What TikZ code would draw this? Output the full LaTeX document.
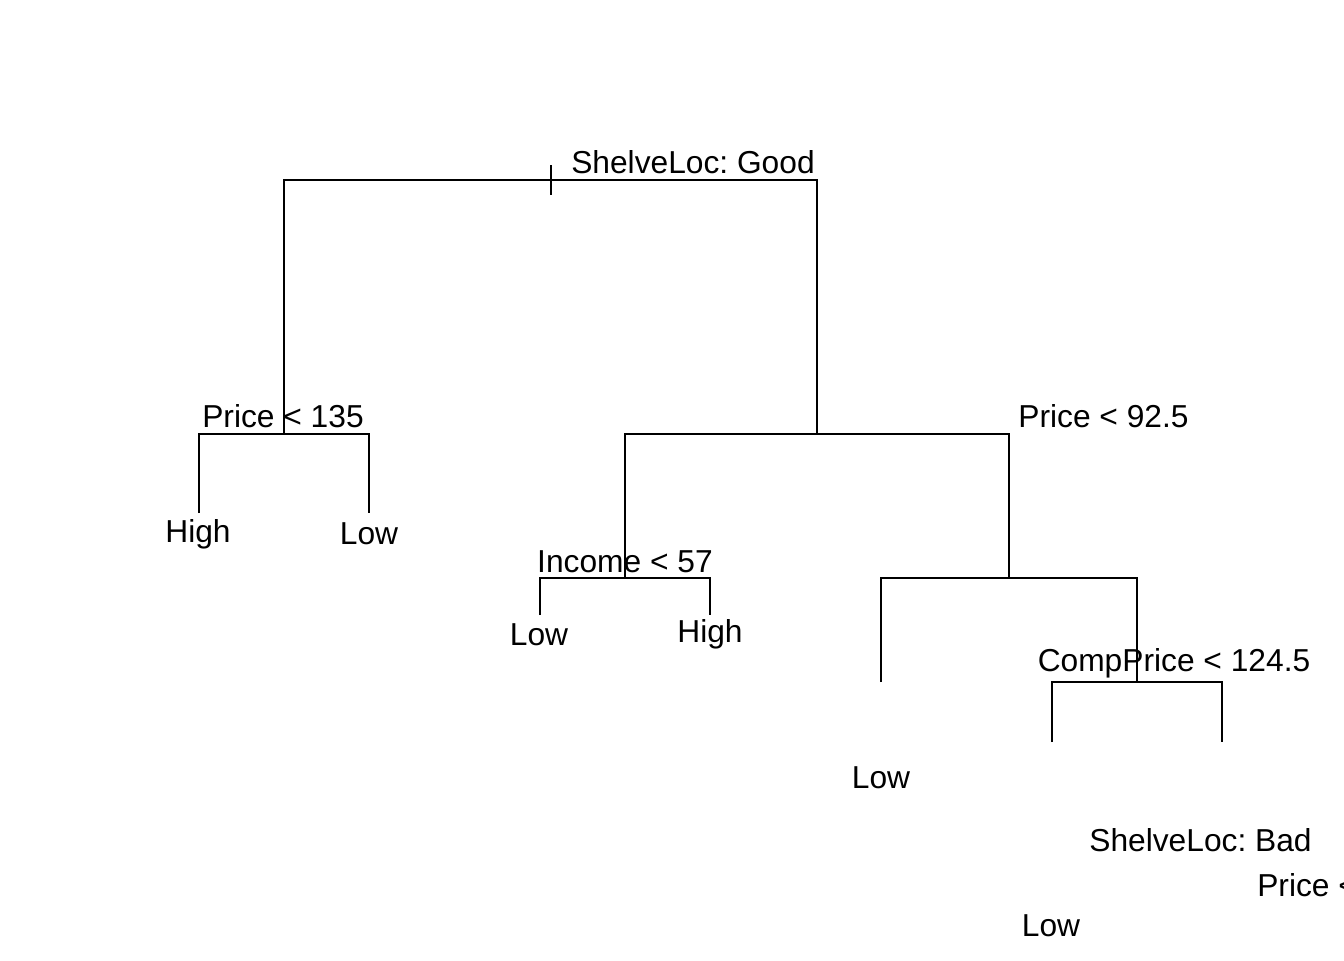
\documentclass[tikz,border=0pt]{standalone}
\usepackage{fontspec}
\setmainfont{Liberation Sans}
\frenchspacing
\begin{document}
\begin{tikzpicture}[x=0.75pt,y=-0.75pt,
  lbl/.style={anchor=base,inner sep=0pt,font=\fontsize{23.8}{28}\selectfont},
  edge/.style={line width=1.5pt}]
\clip (0,0) rectangle (1344,960);
\fill[white] (0,0) rectangle (1344,960);
% tree node positions
\coordinate (r) at (550.5,180);
\coordinate (a) at (284,434);
\coordinate (aL) at (199,513);
\coordinate (aR) at (369,513);
\coordinate (b) at (817,434);
\coordinate (c) at (625,578);
\coordinate (cL) at (540,615);
\coordinate (cR) at (710,615);
\coordinate (d) at (1009,578);
\coordinate (e) at (881,682);
\coordinate (f) at (1137,682);
\coordinate (fL) at (1052,742);
\coordinate (fR) at (1222,742);
% branches
\draw[edge] (a) -- (a |- r) -- (b |- r) -- (b);
\draw[edge] (r) ++(0,-15) -- ++(0,30);
\draw[edge] (aL) -- (aL |- a) -- (aR |- a) -- (aR);
\draw[edge] (c) -- (c |- b) -- (d |- b) -- (d);
\draw[edge] (cL) -- (cL |- c) -- (cR |- c) -- (cR);
\draw[edge] (e) -- (e |- d) -- (f |- d) -- (f);
\draw[edge] (fL) -- (fL |- f) -- (fR |- f) -- (fR);
% labels
\node[lbl] (t1) at (693,173) {ShelveLoc: Good};
\node[lbl] (t2) at (283,427) {Price < 135};
\node[lbl] (t3) at (1103.5,427) {Price < 92.5};
\node[lbl] (t4) at (625,572) {Income < 57};
\node[lbl] (t5) at (1174,671) {CompPrice < 124.5};
\node[lbl] (l1) at (198,542) {High};
\node[lbl] (l2) at (369,544) {Low};
\node[lbl] (l3) at (539,645) {Low};
\node[lbl] (l4) at (710,642) {High};
\node[lbl] (l5) at (881,788) {Low};
\node[lbl] (t6) at (1200.5,851) {ShelveLoc: Bad};
\node[lbl,anchor=base west] (t7) at (1257,896) {Price <};
\node[lbl] (l6) at (1051,936) {Low};
\end{tikzpicture}
\end{document}
